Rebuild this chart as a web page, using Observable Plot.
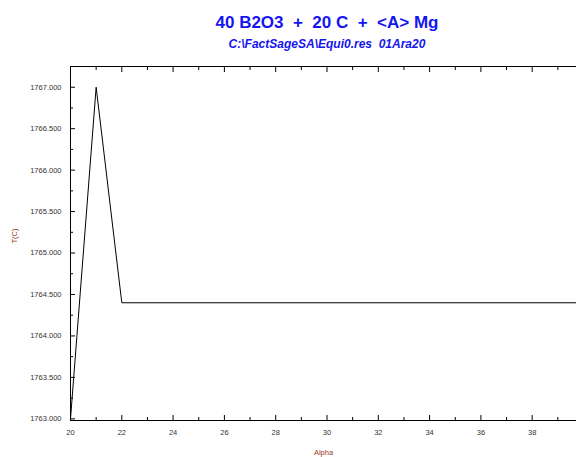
<!DOCTYPE html>
<html>
<head>
<meta charset="utf-8">
<script src="https://cdn.jsdelivr.net/npm/d3@7"></script>
<script src="https://cdn.jsdelivr.net/npm/@observablehq/plot@0.6"></script>
<style>
html, body { margin: 0; padding: 0; background: #fff; overflow: hidden; width: 576px; height: 457px; }
#wrap { position: relative; width: 576px; height: 457px; }
.ttl { position: absolute; left: 127px; width: 400px; text-align: center; white-space: pre; color: #1515f0; font-family: "Liberation Sans", Arial, sans-serif; font-weight: bold; line-height: 1; }
#title { top: 14px; font-size: 17px; }
#subtitle { top: 38px; font-size: 12px; font-style: italic; }
#chart { position: absolute; left: 0; top: 0; }
</style>
</head>
<body>
<div id="wrap">
  <div id="chart"></div>
  <div id="title" class="ttl"></div>
  <div id="subtitle" class="ttl"></div>
</div>
<script>
// Data
const alpha = [20, 21, 22, 40];
const tempC = [1763.0, 1767.0, 1764.4, 1764.4];

const titleText = "40 B2O3  +  20 C  +  <A> Mg";
const subtitleText = "C:\\FactSageSA\\Equi0.res  01Ara20";
const xLabel = "Alpha";
const yLabel = "T(C)";

const xMajor = [20, 22, 24, 26, 28, 30, 32, 34, 36, 38];
const xMinor = [21, 23, 25, 27, 29, 31, 33, 35, 37, 39];
const yMajor = [1763.0, 1763.5, 1764.0, 1764.5, 1765.0, 1765.5, 1766.0, 1766.5, 1767.0];
const yMinor = [1763.25, 1763.75, 1764.25, 1764.75, 1765.25, 1765.75, 1766.25, 1766.75];

const xDomain = [20, 40];
const yDomain = [1762.98, 1767.25];

document.getElementById("title").textContent = titleText;
document.getElementById("subtitle").textContent = subtitleText;

const data = alpha.map((a, i) => ({alpha: a, t: tempC[i]}));
const axisColor = "#000";
const labelColor = "#333";
const titleLabelColor = "#9a3a2a";

const chart = Plot.plot({
  width: 576,
  height: 457,
  marginTop: 66,
  marginLeft: 70,
  marginBottom: 37,
  marginRight: 0,
  style: {fontFamily: "'Liberation Sans', Arial, sans-serif", fontSize: "7.5px", background: "white", color: labelColor},
  x: {domain: xDomain, range: [70, 583]},
  y: {domain: yDomain},
  marks: [
    // frame lines (top, left, bottom)
    Plot.ruleY([yDomain[1]], {stroke: axisColor, strokeWidth: 1}),
    Plot.ruleY([yDomain[0]], {stroke: axisColor, strokeWidth: 1}),
    Plot.ruleX([xDomain[0]], {stroke: axisColor, strokeWidth: 1}),
    // inward ticks, bottom
    Plot.axisX(xMajor, {anchor: "bottom", tickSize: 5, dy: -5, text: null, label: null, stroke: axisColor}),
    Plot.axisX(xMinor, {anchor: "bottom", tickSize: 3, dy: -3, text: null, label: null, stroke: axisColor}),
    // inward ticks, top
    Plot.axisX(xMajor, {anchor: "top", tickSize: 5, dy: 5, text: null, label: null, stroke: axisColor}),
    Plot.axisX(xMinor, {anchor: "top", tickSize: 3, dy: 3, text: null, label: null, stroke: axisColor}),
    // inward ticks, left
    Plot.axisY(yMajor, {anchor: "left", tickSize: 5, dx: 5, text: null, label: null, stroke: axisColor}),
    Plot.axisY(yMinor, {anchor: "left", tickSize: 3, dx: 3, text: null, label: null, stroke: axisColor}),
    // tick labels
    Plot.axisX(xMajor, {anchor: "bottom", tickSize: 0, tickPadding: 9, tickFormat: d => String(d), label: null, fill: labelColor}),
    Plot.axisY(yMajor, {anchor: "left", tickSize: 0, tickPadding: 9, tickFormat: d3.format(".3f"), label: null, fill: labelColor}),
    // axis titles
    Plot.text([yLabel], {frameAnchor: "left", dx: -56, rotate: -90, fill: titleLabelColor, fontSize: 7.5}),
    Plot.text([xLabel], {frameAnchor: "bottom", dy: 34, fill: titleLabelColor, fontSize: 7.5}),
    // the data line
    Plot.line(data, {x: "alpha", y: "t", stroke: "#000", strokeWidth: 1})
  ]
});
document.getElementById("chart").appendChild(chart);
</script>
</body>
</html>
